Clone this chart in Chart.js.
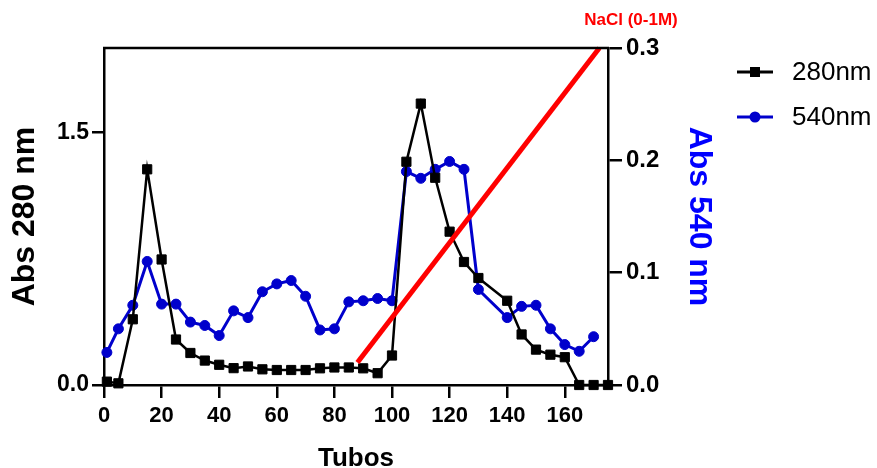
<!DOCTYPE html>
<html>
<head>
<meta charset="utf-8">
<script src="https://cdn.jsdelivr.net/npm/chart.js@4"></script>
<style>
    body { margin: 0; background: #fff; }
    #chartContainer { width: 877px; height: 468px; }
</style>
</head>
<body>
<div id="chartContainer"><canvas id="elutionChart"></canvas></div>
<script>
// tubes and readings
const tubes280 = [1, 5, 10, 15, 20, 25, 30, 35, 40, 45, 50, 55, 60, 65, 70, 75, 80, 85, 90, 95, 100,
    105, 110, 115, 120, 125, 130, 140, 145, 150, 155, 160, 165, 170, 175];
const abs280 = [0.02, 0.01, 0.39, 1.28, 0.745, 0.27, 0.19, 0.145, 0.12, 0.1, 0.11, 0.093, 0.089, 0.089, 0.089,
    0.099, 0.104, 0.104, 0.099, 0.07, 0.175, 1.325, 1.67, 1.23, 0.91, 0.73, 0.635, 0.5, 0.3, 0.21, 0.18, 0.165,
    0, 0, 0];

const tubes540 = [1, 5, 10, 15, 20, 25, 30, 35, 40, 45, 50, 55, 60, 65, 70, 75, 80, 85, 90, 95, 100,
    105, 110, 115, 120, 125, 130, 140, 145, 150, 155, 160, 165, 170];
const abs540 = [0.029, 0.05, 0.071, 0.11, 0.072, 0.072, 0.056, 0.053, 0.044, 0.066, 0.06, 0.083, 0.09, 0.093,
    0.079, 0.049, 0.05, 0.074, 0.075, 0.077, 0.075, 0.19, 0.184, 0.192, 0.199, 0.192, 0.085, 0.06, 0.07, 0.071,
    0.05, 0.036, 0.03, 0.043];

// NaCl gradient (0-1M), drawn against the right axis
const gradientTubes = [88, 172];
const gradientLevel = [0.02, 0.3];

const xTicks = [0, 20, 40, 60, 80, 100, 120, 140, 160];
const leftTicks = [0, 1.5];
const rightTicks = [0, 0.1, 0.2, 0.3];

const legendItems = [
    { label: '280nm', color: '#000000', style: 'rect' },
    { label: '540nm', color: '#0000CC', style: 'circle' },
];

const toPoints = (xs, ys) => xs.map((x, i) => ({ x: x, y: ys[i] }));

Chart.defaults.font.family = "'Liberation Sans', Arial, sans-serif";
Chart.defaults.color = '#000';

const axisLine = { color: '#000', width: 2.5 };
const tickMarks = (len) => ({ drawOnChartArea: false, drawTicks: true, tickLength: len, color: '#000', lineWidth: 2.5 });

// legend with line + marker, top border and the NaCl label
const extrasPlugin = {
    id: 'extras',
    afterDraw: (chart) => {
        const ctx = chart.ctx;
        const area = chart.chartArea;
        ctx.save();
        ctx.strokeStyle = '#000';
        ctx.lineWidth = 2.5;
        ctx.beginPath();
        ctx.moveTo(area.left - 1, area.top);
        ctx.lineTo(area.right + 1, area.top);
        ctx.stroke();

        ctx.fillStyle = '#FF0000';
        ctx.font = "bold 17px 'Liberation Sans', Arial, sans-serif";
        ctx.textAlign = 'center';
        ctx.textBaseline = 'middle';
        ctx.fillText('NaCl (0-1M)', 631, 20);

        legendItems.forEach((item, i) => {
            const y = 72 + i * 45;
            ctx.strokeStyle = item.color;
            ctx.fillStyle = item.color;
            ctx.lineWidth = 3;
            ctx.beginPath();
            ctx.moveTo(737, y);
            ctx.lineTo(773, y);
            ctx.stroke();
            if (item.style === 'rect') {
                ctx.fillRect(750, y - 5, 10, 10);
            } else {
                ctx.beginPath();
                ctx.arc(755, y, 5.5, 0, Math.PI * 2);
                ctx.fill();
            }
            ctx.fillStyle = '#000';
            ctx.font = "26px 'Liberation Sans', Arial, sans-serif";
            ctx.textAlign = 'left';
            ctx.fillText(item.label, 792, y + 1);
        });
        ctx.restore();
    },
};

const ctx = document.getElementById('elutionChart');
const myChart = new Chart(ctx, {
    type: 'line',
    data: {
        datasets: [
            {
                label: 'NaCl (0-1M)',
                data: toPoints(gradientTubes, gradientLevel),
                yAxisID: 'y1',
                borderColor: '#FF0000',
                borderWidth: 5,
                pointRadius: 0,
                clip: false,
            },
            {
                label: '280nm',
                data: toPoints(tubes280, abs280),
                yAxisID: 'y',
                borderColor: '#000000',
                backgroundColor: '#000000',
                borderWidth: 2.5,
                pointStyle: 'rect',
                pointRadius: 6.5,
                pointBorderWidth: 1,
                clip: false,
            },
            {
                label: '540nm',
                data: toPoints(tubes540, abs540),
                yAxisID: 'y1',
                borderColor: '#0000CC',
                backgroundColor: '#0000CC',
                borderWidth: 3,
                pointStyle: 'circle',
                pointRadius: 5,
                pointBorderWidth: 1,
                clip: false,
            },
        ],
    },
    options: {
        responsive: true,
        maintainAspectRatio: false,
        animation: false,
        layout: {
            padding: { left: 0, top: 48, right: 159, bottom: 0 },
        },
        plugins: {
            legend: { display: false },
            tooltip: { enabled: false },
        },
        scales: {
            x: {
                type: 'linear',
                min: 0,
                max: 175,
                afterBuildTicks: (scale) => {
                    scale.ticks = xTicks.map((v) => ({ value: v }));
                },
                afterFit: (scale) => {
                    scale.height = 83;
                },
                ticks: {
                    font: { size: 22, weight: 'bold' },
                    padding: 5,
                    maxRotation: 0,
                    callback: (v) => v,
                },
                grid: tickMarks(13),
                border: axisLine,
                title: {
                    display: true,
                    text: 'Tubos',
                    font: { size: 26, weight: 'bold', lineHeight: 0.6 },
                    padding: { top: 0, bottom: 1 },
                },
            },
            y: {
                position: 'left',
                min: 0,
                max: 2,
                afterBuildTicks: (scale) => {
                    scale.ticks = leftTicks.map((v) => ({ value: v }));
                },
                afterFit: (scale) => {
                    scale.width = 104;
                },
                ticks: {
                    font: { size: 23, weight: 'bold' },
                    padding: 3,
                    callback: (v) => v.toFixed(1),
                },
                grid: tickMarks(12),
                border: axisLine,
                title: {
                    display: true,
                    text: 'Abs 280 nm',
                    font: { size: 32, weight: 'bold', lineHeight: 1.2 },
                    padding: { top: 6, bottom: 0 },
                },
            },
            y1: {
                position: 'right',
                min: 0,
                max: 0.3,
                afterBuildTicks: (scale) => {
                    scale.ticks = rightTicks.map((v) => ({ value: v }));
                },
                afterFit: (scale) => {
                    scale.width = 110;
                },
                ticks: {
                    font: { size: 24, weight: 'bold' },
                    padding: 4,
                    callback: (v) => v.toFixed(1),
                },
                grid: tickMarks(14),
                border: axisLine,
                title: {
                    display: true,
                    text: 'Abs 540 nm',
                    color: '#0000FF',
                    font: { size: 32, weight: 'bold', lineHeight: 1.2 },
                    padding: { top: 0, bottom: 0 },
                },
            },
        },
    },
    plugins: [extrasPlugin],
});
</script>
</body>
</html>
